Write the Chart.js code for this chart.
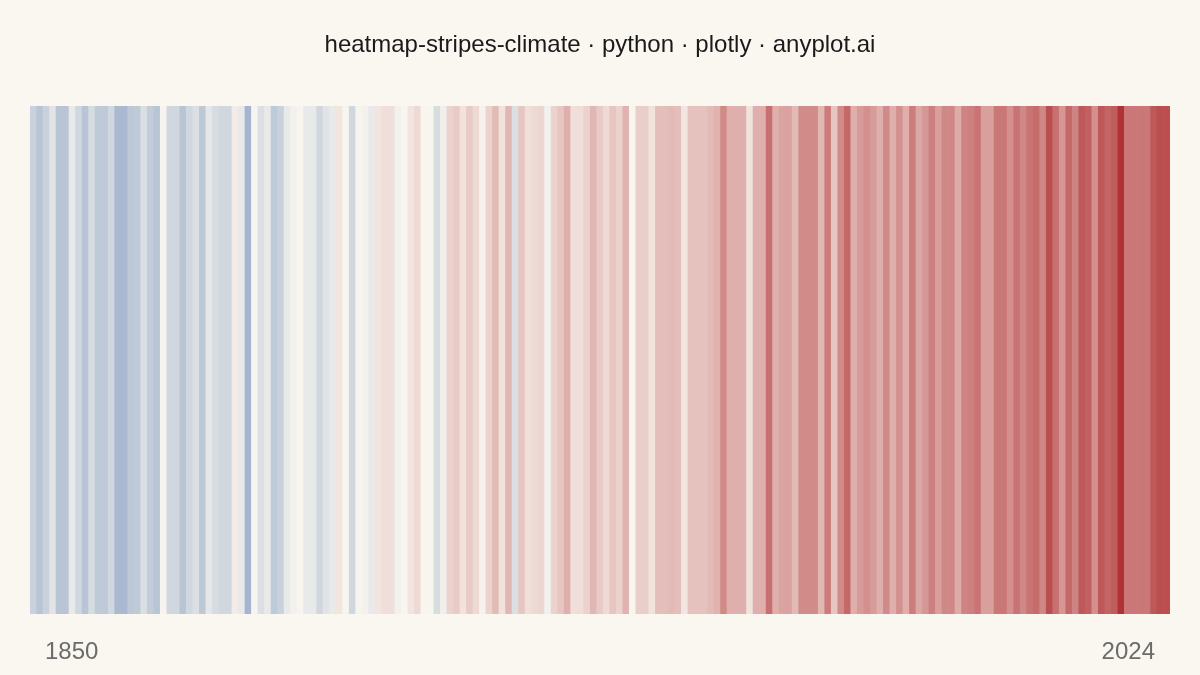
<!DOCTYPE html>
<html>
<head>
<meta charset="utf-8">
<script src="https://cdn.jsdelivr.net/npm/chart.js@4/dist/chart.umd.min.js"></script>
<style>
  html, body { margin: 0; padding: 0; background: #faf7f1; }
  #wrap { width: 1200px; height: 675px; }
</style>
</head>
<body>
<div id="wrap"><canvas id="stripes"></canvas></div>
<script>
// years 1850..2024
const years = [];
for (let y = 1850; y <= 2024; y++) years.push(String(y));

// temperature anomaly (°C, approx)
const anomalies = [
  -0.24, -0.32, -0.24, -0.12, -0.32, -0.32, -0.08, -0.20, -0.32, -0.17,
  -0.29, -0.29, -0.20, -0.40, -0.40, -0.30, -0.29, -0.15, -0.27, -0.32,
  -0.01, -0.20, -0.20, -0.32, -0.20, -0.15, -0.30, -0.10, -0.17, -0.20,
  -0.20,  0.05, -0.08, -0.43, -0.01, -0.15, -0.08, -0.29, -0.24, -0.08,
  -0.03,  0.00, -0.08, -0.08, -0.20, -0.12, -0.08,  0.08,  0.00, -0.20,
  -0.01, -0.03, -0.08,  0.08,  0.12,  0.12, -0.03,  0.00,  0.08,  0.14,
   0.00,  0.00, -0.17, -0.04,  0.18,  0.22,  0.10,  0.22,  0.14,  0.02,
   0.18,  0.30,  0.10,  0.32, -0.15,  0.24,  0.12,  0.14,  0.16, -0.03,
   0.18,  0.24,  0.36,  0.12,  0.12,  0.18,  0.32,  0.22,  0.14,  0.24,
   0.18,  0.34,  0.00,  0.20,  0.20,  0.10,  0.28,  0.28,  0.30,  0.28,
   0.08,  0.26,  0.26,  0.26,  0.30,  0.34,  0.55,  0.36,  0.36,  0.36,
   0.10,  0.36,  0.36,  0.68,  0.36,  0.42,  0.42,  0.30,  0.54,  0.54,
   0.54,  0.32,  0.62,  0.24,  0.54,  0.72,  0.36,  0.46,  0.52,  0.46,
   0.36,  0.55,  0.36,  0.52,  0.36,  0.62,  0.40,  0.48,  0.60,  0.44,
   0.56,  0.56,  0.38,  0.58,  0.60,  0.66,  0.44,  0.44,  0.64,  0.64,
   0.52,  0.66,  0.56,  0.66,  0.70,  0.56,  0.85,  0.68,  0.48,  0.72,
   0.58,  0.80,  0.76,  0.52,  0.80,  0.74,  0.78,  1.00,  0.64,  0.64,
   0.64,  0.64,  0.80,  0.85,  0.85
];

const startLabel = '1850';
const endLabel = '2024';
const titleText = 'heatmap-stripes-climate · python · plotly · anyplot.ai';

// diverging colour: blue -> off-white -> red
const coolColor = [160, 178, 203];
const neutralColor = [248, 245, 239];
const warmColor = [176, 50, 52];

function stripeColor(v) {
  let t, end;
  if (v < 0) { t = Math.min(1, -v / 0.45); end = coolColor; }
  else { t = Math.min(1, v / 1.0); end = warmColor; }
  const c = neutralColor.map((n, i) => Math.round(n + (end[i] - n) * t));
  return `rgb(${c[0]},${c[1]},${c[2]})`;
}

const textPlugin = {
  id: 'stripeText',
  afterDraw(chart) {
    const ctx = chart.ctx;
    const area = chart.chartArea;
    ctx.save();
    ctx.fillStyle = '#1a1a1a';
    ctx.font = '24px "Liberation Sans", Arial, sans-serif';
    ctx.textAlign = 'center';
    ctx.textBaseline = 'middle';
    ctx.fillText(titleText, 600, 45);
    ctx.fillStyle = '#6b6b6b';
    ctx.font = '24px "Liberation Sans", Arial, sans-serif';
    ctx.textAlign = 'left';
    ctx.fillText(startLabel, area.left + 15, 652);
    ctx.textAlign = 'right';
    ctx.fillText(endLabel, area.right - 15, 652);
    ctx.restore();
  }
};

const bgPlugin = {
  id: 'bg',
  beforeDraw(chart) {
    const ctx = chart.ctx;
    ctx.save();
    ctx.fillStyle = '#faf7f1';
    ctx.fillRect(0, 0, chart.width, chart.height);
    ctx.restore();
  }
};

new Chart(document.getElementById('stripes'), {
  type: 'bar',
  data: {
    labels: years,
    datasets: [{
      data: years.map(() => 1),
      backgroundColor: anomalies.map(stripeColor),
      borderWidth: 0,
      barPercentage: 1.0,
      categoryPercentage: 1.0
    }]
  },
  options: {
    responsive: true,
    maintainAspectRatio: false,
    animation: false,
    layout: { padding: { left: 30, right: 30, top: 106, bottom: 61 } },
    plugins: {
      legend: { display: false },
      title: { display: false },
      tooltip: { enabled: false }
    },
    scales: {
      x: { display: false, offset: true },
      y: { display: false, min: 0, max: 1 }
    }
  },
  plugins: [bgPlugin, textPlugin]
});
</script>
</body>
</html>
